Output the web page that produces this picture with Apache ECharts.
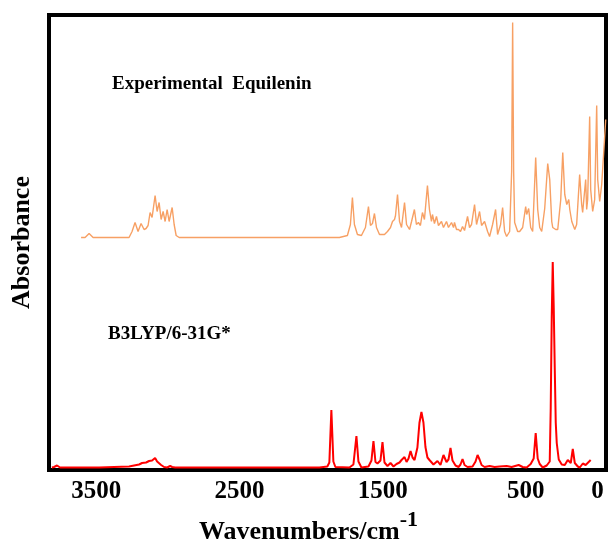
<!DOCTYPE html>
<html>
<head>
<meta charset="utf-8">
<script src="https://cdn.jsdelivr.net/npm/echarts@6/dist/echarts.min.js"></script>
<style>
  html, body { margin: 0; padding: 0; background: #fff; }
  #chart { width: 612px; height: 545px; }
</style>
</head>
<body>
<div id="chart"></div>
<script>
// experimental spectrum (wavenumber, absorbance above its own baseline)
const expWavenumber = [3606, 3578, 3550, 3522, 3410, 3271, 3250, 3229, 3208, 3187, 3166, 3152, 3138, 3124, 3110, 3089, 3075, 3061, 3047, 3033, 3019, 3005, 2991, 2970, 2956, 2942, 2921, 2431, 1802,
  1746, 1725, 1711, 1697, 1676, 1648, 1620, 1599, 1585, 1571, 1557, 1543, 1522, 1487, 1466, 1445, 1431, 1417, 1410, 1396, 1382, 1368, 1347, 1333, 1312, 1298, 1278, 1264, 1250, 1236, 1222, 1208,
  1187, 1173, 1159, 1152, 1138, 1124, 1110, 1089, 1075, 1054, 1040, 1019, 1005, 998, 984, 970, 956, 942, 928, 907, 893, 879, 858, 844, 823, 809, 788, 767, 753, 732, 711, 697, 676, 662, 648, 634,
  613, 599, 592, 585, 578, 557, 543, 522, 501, 494, 480, 466, 452, 431, 417, 403, 389, 368, 347, 333, 319, 312, 291, 277, 256, 242, 228, 214, 200, 193, 179, 158, 145, 124, 110, 103, 82, 75, 68,
  54, 47, 33, 19, 5, -2, -16, -30, -44, -58]
const expAbsorbance = [0, 0, 0.04, 0, 0, 0, 0.06, 0.15, 0.06, 0.14, 0.08, 0.09, 0.12, 0.25, 0.2, 0.42, 0.26, 0.35, 0.18, 0.26, 0.16, 0.28, 0.16, 0.3, 0.13, 0.02, 0, 0, 0,
  0.02, 0.13, 0.4, 0.13, 0.03, 0.02, 0.1, 0.31, 0.12, 0.14, 0.24, 0.1, 0.03, 0.03, 0.06, 0.1, 0.16, 0.18, 0.22, 0.43, 0.16, 0.1, 0.35, 0.13, 0.08, 0.16, 0.28, 0.13, 0.15, 0.12, 0.25, 0.18,
  0.52, 0.28, 0.16, 0.23, 0.14, 0.21, 0.12, 0.16, 0.1, 0.16, 0.1, 0.15, 0.1, 0.15, 0.08, 0.08, 0.06, 0.11, 0.07, 0.21, 0.1, 0.13, 0.33, 0.13, 0.26, 0.12, 0.16, 0.06, 0.01, 0.13, 0.28, 0.03, 0.13, 0.3, 0.06, 0.01,
  0.06, 0.66, 2.15, 0.66, 0.15, 0.06, 0.06, 0.1, 0.31, 0.23, 0.29, 0.1, 0.06, 0.8, 0.28, 0.1, 0.06, 0.29, 0.74, 0.58, 0.16, 0.1, 0.08, 0.08, 0.38, 0.85, 0.43, 0.33, 0.38, 0.28, 0.16, 0.08, 0.13, 0.63, 0.33, 0.25, 0.58, 0.28, 0.38,
  1.21, 0.48, 0.26, 0.38, 1.32, 0.58, 0.36, 0.53, 0.85, 1.18]
const expOffset = 2.3

// B3LYP/6-31G* calculated spectrum
const calcWavenumber = [3810, 3795, 3774, 3753, 3480, 3271, 3201, 3180, 3152, 3131, 3110, 3089, 3075, 3047, 3026, 3005, 2984, 2970, 2949, 2431, 1942,
  1886, 1872, 1858, 1844, 1830, 1732, 1704, 1683, 1669, 1648, 1599, 1578, 1564, 1550, 1536, 1515, 1501, 1487, 1466, 1445, 1424, 1403, 1382, 1368, 1347, 1333, 1319, 1305, 1291, 1277,
  1257, 1243, 1229, 1222, 1215, 1201, 1187, 1173, 1145, 1117, 1096, 1075, 1054, 1040, 1026, 1012, 991, 970, 956, 942, 928, 907, 872, 851, 837, 823, 809, 788, 753, 718, 683, 634, 599, 550,
  522, 494, 466, 445, 431, 417, 403, 382, 354, 333, 326, 319, 312, 305, 298, 291, 284, 270, 249, 228, 207, 186, 172, 158, 137, 123, 102, 82, 68, 47]
const calcAbsorbance = [0, 0.005, 0.02, 0, 0, 0.01, 0.03, 0.045, 0.05, 0.065, 0.07, 0.095, 0.06, 0.025, 0.005, 0, 0.015, 0.005, 0, 0, 0,
  0.01, 0.05, 0.575, 0.06, 0.005, 0, 0.03, 0.315, 0.06, 0, 0.01, 0.07, 0.265, 0.055, 0.04, 0.07, 0.255, 0.05, 0.015, 0.045, 0.01, 0.035, 0.05, 0.075, 0.105, 0.055, 0.09, 0.165, 0.1, 0.075,
  0.2, 0.445, 0.555, 0.555, 0.45, 0.205, 0.1, 0.075, 0.03, 0.065, 0.025, 0.125, 0.055, 0.08, 0.195, 0.07, 0.02, 0.005, 0.03, 0.085, 0.025, 0.005, 0.01, 0.06, 0.125, 0.08, 0.025, 0.005, 0.015, 0.005, 0.01, 0.015, 0.005, 0.025,
  0.005, 0, 0.035, 0.09, 0.345, 0.09, 0.035, 0, 0.02, 0.06, 0.6, 1.5, 2.055, 1.6, 1.0, 0.45, 0.245, 0.08, 0.03, 0.025, 0.075, 0.045, 0.185, 0.045, 0.01, 0, 0.04, 0.025, 0.045, 0.075]

const xTicks = [3500, 2500, 1500, 500, 0]

const serif = '"Liberation Serif", "Times New Roman", serif'

const chart = echarts.init(document.getElementById('chart'))

const option = {
  animation: false,
  backgroundColor: '#fff',
  grid: {
    left: 49,
    right: 6,
    top: 15,
    bottom: 75,
    outerBoundsMode: 'none',
    show: true,
    borderColor: '#000',
    borderWidth: 4,
    backgroundColor: 'transparent'
  },
  xAxis: {
    type: 'value',
    inverse: true,
    min: -60,
    max: 3830,
    axisLine: { show: false },
    axisTick: { show: false },
    splitLine: { show: false },
    axisLabel: {
      customValues: xTicks,
      formatter: v => String(v),
      color: '#000',
      fontFamily: serif,
      fontWeight: 'bold',
      fontSize: 25,
      margin: 9
    },
    name: '{a|Wavenumbers/cm}{b|-1}',
    nameLocation: 'middle',
    nameGap: 36,
    nameTextStyle: {
      padding: [0, 38, 0, 0],
      rich: {
        a: { fontFamily: serif, fontWeight: 'bold', fontSize: 26, color: '#000', verticalAlign: 'bottom' },
        b: { fontFamily: serif, fontWeight: 'bold', fontSize: 22, color: '#000', verticalAlign: 'top', padding: [0, 0, 14, 0] }
      }
    }
  },
  yAxis: {
    type: 'value',
    min: -0.025,
    max: 4.525,
    axisLine: { show: false },
    axisTick: { show: false },
    axisLabel: { show: false },
    splitLine: { show: false },
    name: 'Absorbance',
    nameLocation: 'middle',
    nameRotate: 90,
    nameGap: 14,
    nameTextStyle: {
      fontFamily: serif,
      fontWeight: 'bold',
      fontSize: 26,
      color: '#000'
    }
  },
  graphic: [
    {
      type: 'text',
      left: 112,
      top: 75,
      style: {
        text: 'Experimental  Equilenin',
        fontFamily: serif,
        fontWeight: 'bold',
        fontSize: 19,
        fill: '#000'
      }
    },
    {
      type: 'text',
      left: 108,
      top: 325,
      style: {
        text: 'B3LYP/6-31G*',
        fontFamily: serif,
        fontWeight: 'bold',
        fontSize: 19,
        fill: '#000'
      }
    }
  ],
  series: [
    {
      name: 'Experimental',
      type: 'line',
      showSymbol: false,
      data: expWavenumber.map((w, i) => [w, expAbsorbance[i] + expOffset]),
      lineStyle: { color: '#F7A064', width: 1.4 }
    },
    {
      name: 'B3LYP/6-31G*',
      type: 'line',
      showSymbol: false,
      data: calcWavenumber.map((w, i) => [w, calcAbsorbance[i]]),
      lineStyle: { color: '#FF0000', width: 2 }
    }
  ]
}

chart.setOption(option)
</script>
</body>
</html>
